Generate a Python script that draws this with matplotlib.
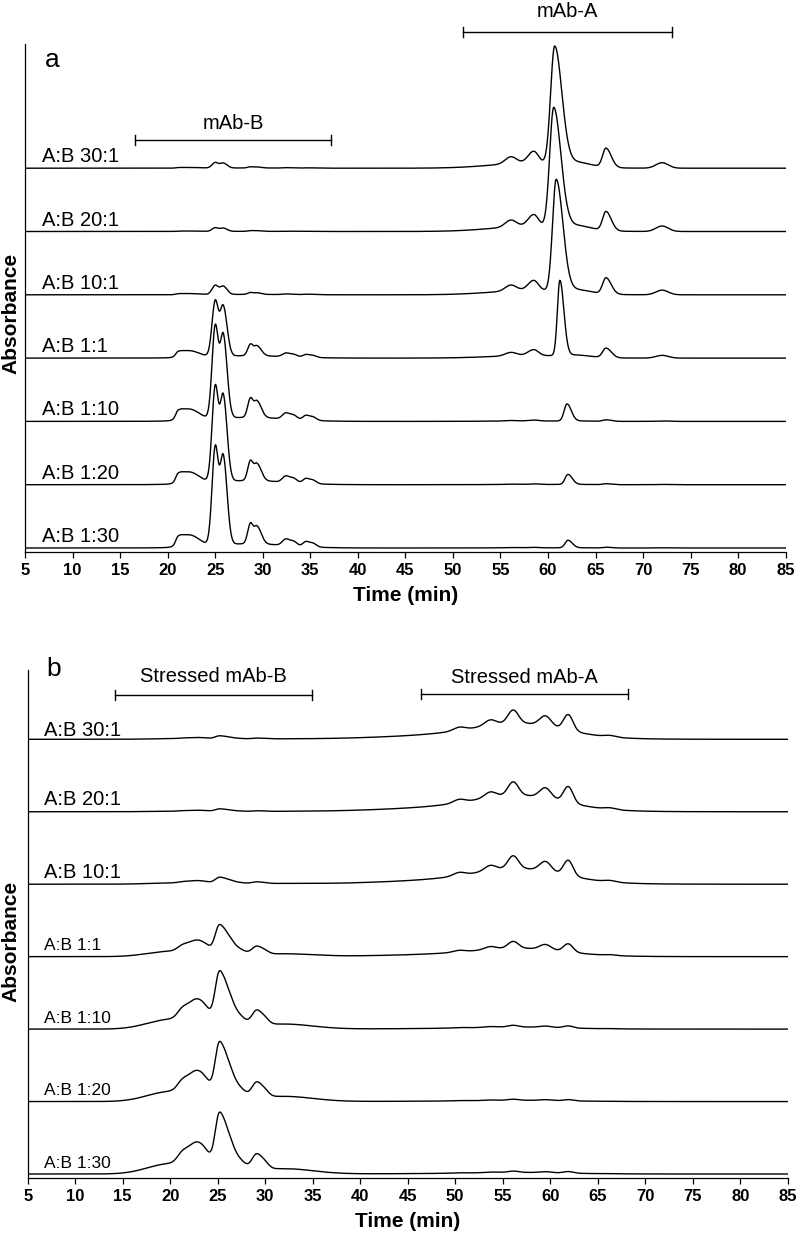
import numpy as np
import matplotlib.pyplot as plt

plt.rcParams['font.family'] = ['Liberation Sans', 'DejaVu Sans']

TICKS = list(range(5, 90, 5))
LABELS = ['A:B 30:1', 'A:B 20:1', 'A:B 10:1', 'A:B 1:1',
          'A:B 1:10', 'A:B 1:20', 'A:B 1:30']

# ---- panel a: fresh samples ----
# mAb-B peaks: (centre min, height, sigma left, sigma right), heights of A:B 1:10
MABB_PEAKS = [
    (21.1, 7.0, 0.25, 0.5), (22.3, 10.9, 0.8, 1.0),
    (25.0, 91.0, 0.33, 0.33), (25.85, 82.0, 0.33, 0.4),
    (28.7, 18.7, 0.28, 0.28), (29.4, 16.3, 0.3, 0.45),
    (32.4, 5.5, 0.35, 0.35), (33.2, 4.5, 0.4, 0.4),
    (34.5, 4.0, 0.3, 0.3), (35.2, 3.8, 0.4, 0.4),
    (28.5, 4.0, 4.0, 4.0)]
MABB_SCALE = [0.06, 0.04, 0.10, 0.60, 1.0, 1.03, 1.06]

# mAb-A minor peaks, heights of A:B 30:1
MABA_MINOR = [
    (58.0, 5.0, 4.0, 4.0), (56.1, 7.0, 0.6, 0.6), (58.5, 12.0, 0.6, 0.5),
    (63.0, 4.0, 1.5, 1.5), (66.1, 19.0, 0.35, 0.55), (72.0, 5.5, 0.65, 0.65)]
MABA_SCALE = [1.0, 1.0, 0.85, 0.5, 0.08, 0.05, 0.04]
# main mAb-A peak of each trace
MABA_MAIN = [(60.7, 117, 0.42, 0.75), (60.6, 119, 0.42, 0.75),
             (60.86, 111, 0.38, 0.7), (61.25, 75, 0.26, 0.42),
             (62.0, 17, 0.3, 0.45), (62.1, 10, 0.3, 0.45),
             (62.1, 7.5, 0.3, 0.45)]

# ---- panel b: stressed samples ----
SB_PEAKS = [
    (24.0, 8.0, 2.5, 2.5), (19.5, 8.0, 2.2, 2.2), (21.2, 6.0, 0.5, 0.5),
    (22.3, 13.0, 0.8, 0.8), (23.4, 13.0, 0.8, 0.8),
    (25.1, 42.0, 0.4, 0.4), (25.85, 30.0, 0.4, 0.6),
    (27.0, 10.0, 0.8, 0.8), (29.0, 12.0, 0.45, 0.45),
    (29.8, 8.0, 0.5, 0.5), (32.0, 5.0, 3.0, 3.0)]
SB_SCALE = [0.06, 0.05, 0.12, 0.55, 1.0, 1.03, 1.06]

SA_PEAKS = [
    (52.0, 5.0, 8.0, 8.0), (57.0, 12.0, 4.5, 4.5),
    (50.4, 3.2, 0.6, 0.6), (53.7, 5.4, 0.6, 0.6), (56.1, 13.2, 0.55, 0.55),
    (59.5, 10.0, 0.6, 0.6), (61.9, 15.8, 0.5, 0.5), (66.3, 1.5, 0.6, 0.6)]
SA_SCALE = [1.0, 1.02, 0.97, 0.52, 0.13, 0.08, 0.10]

BRACKETS_A = [('mAb-B', 16.6, 37.2), ('mAb-A', 51.1, 73.0)]
BRACKETS_B = [('Stressed mAb-B', 14.2, 34.9), ('Stressed mAb-A', 46.4, 68.2)]

t = np.linspace(5, 85, 2001)


def peaks(tt, table, scale=1.0):
    y = np.zeros_like(tt)
    for c, h, sl, sr in table:
        s = np.where(tt < c, sl, sr)
        y += scale * h * np.exp(-0.5 * ((tt - c) / s) ** 2)
    return y


fig = plt.figure(figsize=(8, 12.43), dpi=100)
H = 508.3  # axes height in px, y data is in px

ax_a = fig.add_axes([25 / 800, 690.7 / 1243, 760.7 / 800, H / 1243])
ax_b = fig.add_axes([27.7 / 800, 64.7 / 1243, 760 / 800, H / 1243])

for ax in (ax_a, ax_b):
    ax.set_xlim(5, 85)
    ax.set_ylim(0, H)
    ax.set_xticks(TICKS)
    ax.set_yticks([])
    ax.spines['top'].set_visible(False)
    ax.spines['right'].set_visible(False)
    ax.spines['left'].set_linewidth(0.9)
    ax.spines['bottom'].set_linewidth(0.9)
    ax.tick_params(axis='x', direction='out', length=4.3, width=0.9,
                   labelsize=12, pad=3.5)
    for lab in ax.get_xticklabels():
        lab.set_fontweight('bold')
    ax.set_xlabel('Time (min)', fontsize=15, fontweight='bold', labelpad=6)

# panel a traces (bottom trace first in offsets)
n = len(LABELS)
for i, lab in enumerate(LABELS):
    off = 4.3 + 63.3 * (n - 1 - i)
    y = (peaks(t, MABB_PEAKS, MABB_SCALE[i]) + peaks(t, MABA_MINOR, MABA_SCALE[i])
         + peaks(t, [MABA_MAIN[i]]))
    ax_a.plot(t, off + y, color='black', lw=1.0)
    ax_a.text(6.76, off + 6, lab, fontsize=14.5, va='baseline', ha='left')

for i, lab in enumerate(LABELS):
    off = 4.3 + 72.45 * (n - 1 - i)
    y = peaks(t, SB_PEAKS, SB_SCALE[i]) + peaks(t, SA_PEAKS, SA_SCALE[i])
    ax_b.plot(t, off + y, color='black', lw=1.0)
    size = 14.5 if i < 3 else 12.5
    lift = 3 if i == 0 else 6.5
    ax_b.text(6.75, off + lift, lab, fontsize=size, va='baseline', ha='left')


def bracket(ax, name, x0, x1, yline, ytext):
    ax.plot([x0, x1], [yline, yline], color='black', lw=1.0, clip_on=False)
    for xx in (x0, x1):
        ax.plot([xx, xx], [yline - 5, yline + 5], color='black', lw=1.0,
                clip_on=False)
    ax.text((x0 + x1) / 2, ytext, name, fontsize=14.5, ha='center',
            va='baseline', clip_on=False)


bracket(ax_a, BRACKETS_A[0][0], BRACKETS_A[0][1], BRACKETS_A[0][2], 412.6, 423)
bracket(ax_a, BRACKETS_A[1][0], BRACKETS_A[1][1], BRACKETS_A[1][2], 520.6, 535)
bracket(ax_b, BRACKETS_B[0][0], BRACKETS_B[0][1], BRACKETS_B[0][2], 483.3, 496)
bracket(ax_b, BRACKETS_B[1][0], BRACKETS_B[1][1], BRACKETS_B[1][2], 484.3, 495.6)

fig.text(45 / 800, 1 - 66.7 / 1243, 'a', fontsize=19, va='baseline')
fig.text(46.7 / 800, 1 - 676 / 1243, 'b', fontsize=19, va='baseline')
fig.text(10.5 / 800, 1 - 313 / 1243, 'Absorbance', fontsize=15,
         fontweight='bold', rotation=90, ha='center', va='center')
fig.text(10.5 / 800, 1 - 941.5 / 1243, 'Absorbance', fontsize=15,
         fontweight='bold', rotation=90, ha='center', va='center')

fig.savefig('out.png', dpi=100)
